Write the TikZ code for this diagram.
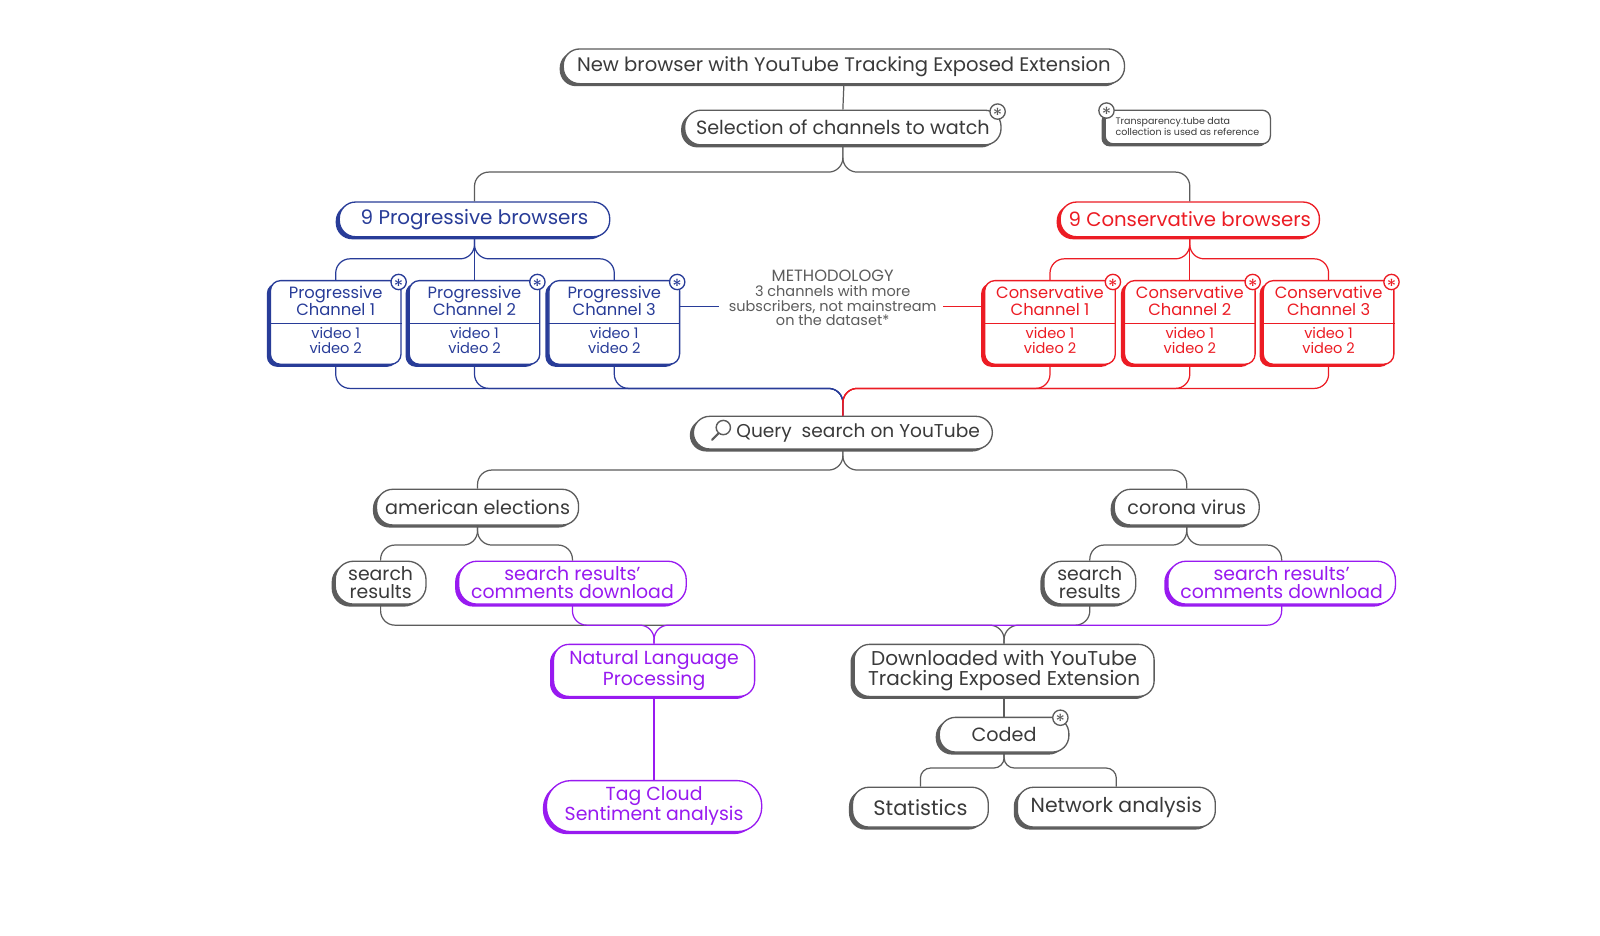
\documentclass[tikz,border=0pt]{standalone}
\usepackage{fontspec}
\setmainfont{Poppins}
\usetikzlibrary{shadows,calc}
\definecolor{gline}{HTML}{5C5C5C}
\definecolor{gtext}{HTML}{3A3A3A}
\definecolor{pblue}{RGB}{40,60,152}
\definecolor{cred}{RGB}{236,28,36}
\definecolor{pvio}{RGB}{152,26,240}
\tikzset{
  base/.style={draw=#1, line width=1.3pt, fill=white, inner sep=0pt, align=center,
    general shadow={fill=#1, shadow xshift=-3.5pt, shadow yshift=-2.5pt}},
  gpill/.style={base=gline, text=gtext, rounded corners=16pt},
  cpill/.style={base=#1, text=#1, rounded corners=16pt},
  chanbox/.style={base=#1, minimum width=128pt, minimum height=82pt, rounded corners=10pt},
  chantext/.style={text=#1, align=center, inner sep=0pt, font=\fontsize{16}{16.5}\selectfont},
  vidtext/.style={text=#1, align=center, inner sep=0pt, font=\fontsize{14.3}{15}\selectfont},
  badge/.style={circle, draw=#1, fill=white, line width=1.3pt, minimum size=15pt, inner sep=0pt,
    text=#1, font=\fontsize{19}{19}\selectfont},
  lnk/.style={draw=#1, line width=1.2pt, rounded corners=14pt},
  bigf/.style={font=\fontsize{18.8}{17}\selectfont},
  twof/.style={font=\fontsize{18.5}{16.8}\selectfont},
}
\newcommand{\astx}{\raisebox{-10.8pt}[0pt][0pt]{*}}
\begin{document}
\begin{tikzpicture}[x=1pt,y=-1pt]
\useasboundingbox (0,0) rectangle (1568,917);
\fill[white] (0,0) rectangle (1568,917);

% ---------- nodes ----------
\node[gpill, font=\fontsize{19.2}{17}\selectfont, minimum width=550pt, minimum height=34pt] (top) at (827,65) {New browser with YouTube Tracking Exposed Extension};
\node[gpill, bigf, minimum width=310pt, minimum height=34pt] (sel) at (826,125) {Selection of channels to watch};
\node[base=gline, rounded corners=8pt, minimum width=162pt, minimum height=33pt] (note) at (1164,124.5) {};
\node[anchor=west, text=gtext, align=left, inner sep=0pt, font=\fontsize{9.3}{10.5}\selectfont] (notetxt) at (1093,124) {Transparency.tube data\\collection is used as reference};

\node[cpill=pblue, font=\fontsize{19.5}{17}\selectfont, minimum width=265pt, minimum height=34pt] (prog) at (465,215) {9 Progressive browsers};
\node[cpill=cred, font=\fontsize{19.3}{17}\selectfont, minimum width=254pt, minimum height=34pt] (cons) at (1166,215) {9 Conservative browsers};

% channel boxes
\foreach \n/\x/\c/\t in {pc1/329/pblue/Progressive\\Channel 1, pc2/465/pblue/Progressive\\Channel 2, pc3/602/pblue/Progressive\\Channel 3,
                        cc1/1029/cred/Conservative\\Channel 1, cc2/1166/cred/Conservative\\Channel 2, cc3/1302/cred/Conservative\\Channel 3}{
  \node[chanbox=\c] (\n) at (\x,316) {};
  \node[chantext=\c] (\n t) at ([yshift=21pt]\n.center) {\t};
  \node[vidtext=\c] (\n v) at ([yshift=-18pt]\n.center) {video 1\\video 2};
  \draw[draw=\c, line width=1pt] ([yshift=-1pt]\n.west) -- ([yshift=-1pt]\n.east);
}

\node[text=gline, align=center, inner sep=0pt, font=\fontsize{14.2}{14.5}\selectfont] (meth) at (816,292)
  {{\fontsize{16}{14.5}\selectfont METHODOLOGY}\\3 channels with more\\subscribers, not mainstream\\on the dataset*};
\coordinate (mL) at (705,300);
\coordinate (mR) at (924,300);

\node[gpill, font=\fontsize{18.2}{17}\selectfont, minimum width=293pt, minimum height=32pt] (query) at (826,424) {\hspace*{30pt}Query\ \ search on YouTube};

\node[gpill, bigf, minimum width=198pt, minimum height=35pt] (amer) at (468,497) {american elections};
\node[gpill, bigf, minimum width=142pt, minimum height=35pt] (corona) at (1163,497) {corona virus};

\node[gpill, twof, rounded corners=18pt, minimum width=89pt, minimum height=42pt] (sr1) at (373,571) {search\\results};
\node[cpill=pvio, twof, rounded corners=18pt, minimum width=223pt, minimum height=42pt] (cd1) at (561,571) {search results’\\comments download};
\node[gpill, twof, rounded corners=18pt, minimum width=90pt, minimum height=42pt] (sr2) at (1068,571) {search\\results};
\node[cpill=pvio, twof, rounded corners=18pt, minimum width=223pt, minimum height=42pt] (cd2) at (1256,571) {search results’\\comments download};

\node[cpill=pvio, twof, rounded corners=15pt, minimum width=197pt, minimum height=51pt] (nlp) at (641,657) {Natural Language\\Processing};
\node[gpill, rounded corners=15pt, minimum width=294pt, minimum height=51pt, font=\fontsize{19.6}{19.5}\selectfont] (dl) at (984,657) {Downloaded with YouTube\\Tracking Exposed Extension};

\node[cpill=pvio, twof, rounded corners=24pt, minimum width=211pt, minimum height=50pt] (tag) at (641,790) {Tag Cloud\\Sentiment analysis};

\node[gpill, bigf, minimum width=127pt, minimum height=34pt] (coded) at (984,720) {Coded};
\node[gpill, font=\fontsize{20.5}{17}\selectfont, minimum width=133pt, minimum height=39pt] (stats) at (902,791) {Statistics};
\node[gpill, font=\fontsize{20}{17}\selectfont, minimum width=194pt, minimum height=39pt] (net) at (1094,791) {Network analysis};

% ---------- connectors ----------
\draw[lnk=gline] (top.south) -- (sel.north);
\draw[lnk=gline] (sel.south) -- ++(0,26) -| (prog.north);
\draw[lnk=gline] (sel.south) -- ++(0,26) -| (cons.north);

\draw[lnk=pblue] (prog.south) -- ++(0,21) -| (pc1.north);
\draw[lnk=pblue] (prog.south) -- (pc2.north);
\draw[lnk=pblue] (prog.south) -- ++(0,21) -| (pc3.north);
\draw[lnk=cred] (cons.south) -- ++(0,21) -| (cc1.north);
\draw[lnk=cred] (cons.south) -- (cc2.north);
\draw[lnk=cred] (cons.south) -- ++(0,21) -| (cc3.north);

\draw[lnk=pblue] (pc3.east |- mL) -- (mL);
\draw[lnk=cred] (cc1.west |- mR) -- (mR);

\foreach \n in {pc1,pc2,pc3}{\draw[lnk=pblue] (\n.south) -- ++(0,23) -| (query.north);}
\foreach \n in {cc1,cc2,cc3}{\draw[lnk=cred] (\n.south) -- ++(0,23) -| (query.north);}

\draw[lnk=gline] (query.south) -- ++(0,20) -| (amer.north);
\draw[lnk=gline] (query.south) -- ++(0,20) -| (corona.north);

\draw[lnk=gline] (amer.south) -- ++(0,19) -| (sr1.north);
\draw[lnk=gline] (amer.south) -- ++(0,19) -| (cd1.north);
\draw[lnk=gline] (corona.south) -- ++(0,19) -| (sr2.north);
\draw[lnk=gline] (corona.south) -- ++(0,19) -| (cd2.north);

\draw[lnk=gline] (sr1.south) -- ++(0,20) -| (dl.north);
\draw[lnk=gline] (sr2.south) -- ++(0,20) -| (dl.north);
\draw[lnk=pvio] (cd1.south) -- ++(0,20) -| (nlp.north);
\draw[lnk=pvio] (cd2.south) -- ++(0,20) -| (nlp.north);

\draw[lnk=pvio] (nlp.south) -- (tag.north);
\draw[lnk=gline] (dl.south) -- (coded.north);
\draw[lnk=gline, rounded corners=10pt] (coded.south) -- ++(0,15) -| (stats.north);
\draw[lnk=gline, rounded corners=10pt] (coded.south) -- ++(0,15) -| (net.north);

% magnifier icon
\draw[draw=gline, line width=1.4pt] ($(query.west)+(30,-5)$) circle (7pt);
\draw[draw=gline, line width=2pt, line cap=round] ($(query.west)+(25,1)$) -- ($(query.west)+(19,7)$);

% ---------- badges ----------
\node[badge=gline] (b0) at ([xshift=-4pt,yshift=-2pt]sel.north east) {\astx};
\node[badge=gline] (b1) at ([xshift=2pt,yshift=-1pt]note.north west) {\astx};
\node[badge=gline] (b2) at ([xshift=-9pt,yshift=-1pt]coded.north east) {\astx};
\foreach \n/\c in {pc1/pblue,pc2/pblue,pc3/pblue,cc1/cred,cc2/cred,cc3/cred}{
  \node[badge=\c] (\n b) at ([xshift=-3pt,yshift=-2pt]\n.north east) {\astx};
}
\end{tikzpicture}
\end{document}
